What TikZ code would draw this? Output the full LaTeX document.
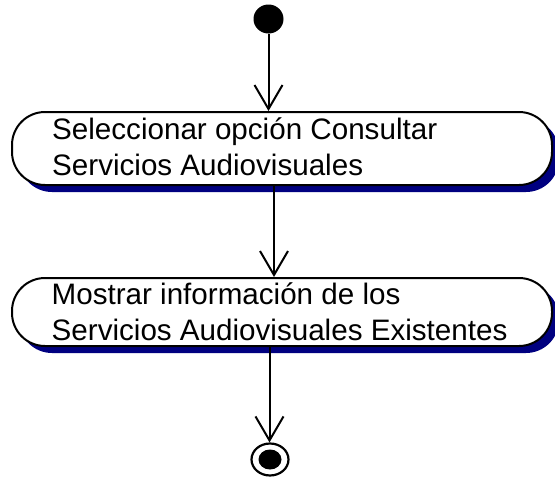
\documentclass[tikz,border=0pt]{standalone}
\usepackage{fontspec}
\setmainfont{Liberation Sans}
\usetikzlibrary{arrows.meta,shadows,shapes.geometric}
\definecolor{shadowblue}{RGB}{0,0,128}
\begin{document}
\begin{tikzpicture}[x=1pt,y=-1pt,
  actbox/.style={draw=black,line width=2pt,fill=white,rounded corners=33pt,inner sep=0pt,
    minimum width=540pt,
    drop shadow={shadow xshift=7pt,shadow yshift=-7pt,opacity=1,fill=shadowblue}},
  txt/.style={anchor=base west,inner sep=0pt,font=\fontsize{29.6}{36}\selectfont},
  flow/.style={line width=2pt,-{Straight Barb[length=24pt,width=28pt,line width=2pt]}}]
\useasboundingbox (0,0) rectangle (555,479);
\node (start) [ellipse,fill=black,minimum width=30pt,minimum height=29pt,inner sep=0pt] at (268.5,19) {};
\node (box1) [actbox,minimum height=73pt] at (282,148.5) {};
\node (box2) [actbox,minimum height=68pt] at (282,312) {};
\node (endo) [ellipse,draw=black,line width=2.2pt,minimum width=37pt,minimum height=32pt,inner sep=0pt] at (270,459.5) {};
\node (endi) [ellipse,fill=black,minimum width=23pt,minimum height=20pt,inner sep=0pt] at (270,459.5) {};
\node[txt] (t1a) at (52,139) {Seleccionar opción Consultar};
\node[txt] (t1b) at (52,175.7) {Servicios Audiovisuales};
\node[txt] (t2a) at (51.5,304.3) {Mostrar información de los};
\node[txt] (t2b) at (51.5,340.7) {Servicios Audiovisuales Existentes};
\coordinate (c2) at (274,0);
\coordinate (c3) at (269.5,0);
\draw[flow] (start.south) -- (start.south |- box1.north);
\draw[flow] (box1.south -| c2) -- (box2.north -| c2);
\draw[flow] (box2.south -| c3) -- (endo.north -| c3);
\end{tikzpicture}
\end{document}
